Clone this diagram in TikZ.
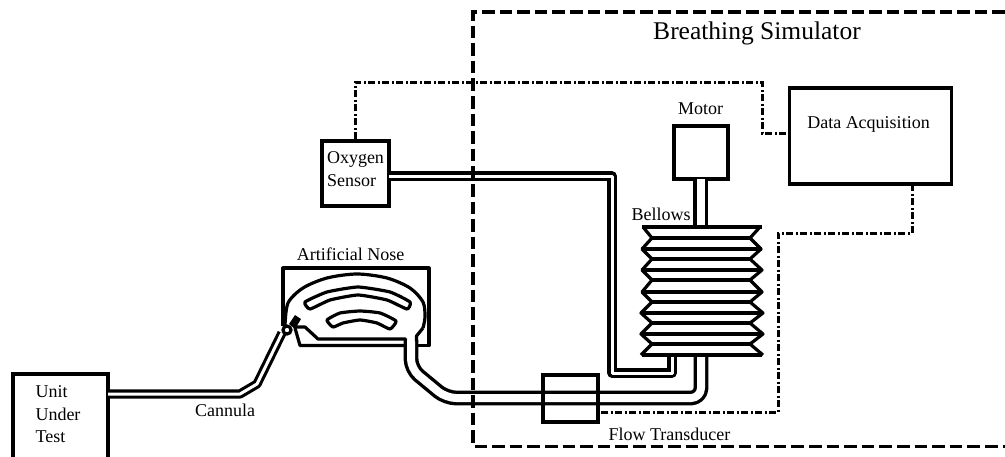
\documentclass[tikz,border=0pt]{standalone}
\usepackage{fontspec}
\setmainfont{Liberation Serif}
\begin{document}
\begin{tikzpicture}[x=1pt,y=-1pt,font=\fontsize{18}{22.5}\selectfont,
  box/.style={draw,line width=3.6pt,inner sep=0pt},
  txt/.style={inner sep=0pt,align=left},
  outline/.style={line width=3.2pt,line join=round},
  tube/.style={double,line width=3.1pt,double distance=3pt,line join=round},
  widetube/.style={double,line width=3.4pt,double distance=8pt,line join=round},
  signal/.style={line width=3pt,dash pattern=on 7pt off 2.5pt on 2pt off 2.5pt},
  border/.style={line width=3.2pt,dash pattern=on 12.6pt off 5pt},
  plate/.style={line width=3.4pt}]
  \useasboundingbox (0,0) rectangle (1005,456);

  \node[box,minimum width=95pt,minimum height=85pt] (uut) at (60.5,416.5) {};
  \node[box,minimum width=67pt,minimum height=65pt] (sensor) at (355.5,173.5) {};
  \node[box,minimum width=54pt,minimum height=53pt] (motor) at (701,152.5) {};
  \node[box,minimum width=162pt,minimum height=96pt] (daq) at (870.5,136) {};
  \coordinate (canin) at (108,394);
  \coordinate (canbend) at (240,394);
  \coordinate (cankink) at (257,384);
  \coordinate (ring) at (282,333);
  \coordinate (oxout) at (389,176);
  \coordinate (oxdown) at (612,176);
  \coordinate (oxbed) at (672,373);
  \coordinate (oxin) at (672,355);
  \coordinate (flowin) at (701,355);
  \coordinate (flowbend) at (701,398);
  \coordinate (noseout) at (411,340);
  \coordinate (shafttop) at (700.5,179);
  \coordinate (shaftend) at (700.5,227);

  % tubing
  \draw[tube] (canin) -- (canbend) -- (cankink) -- (ring);
  \draw[tube] (oxout) -- (oxdown) -- (oxdown |- oxbed) -- (oxbed) -- (oxin);
  \draw[widetube,rounded corners=10pt] (flowin) -- (flowbend) -- (446,398) -- (411,369) -- (noseout);
  \draw[widetube] (shafttop) -- (shaftend);

  % artificial nose
  \draw[outline] (283,326) -- (283,268) -- (429,268) -- (429,345.5) -- (416,345.5);
  \draw[outline] (405.5,345.5) -- (300,345.5) -- (295,328);
  \draw[outline] (405.5,340) -- (405.5,339) -- (318,339) -- (305,327) -- (294,327);
  \draw[outline,smooth] plot coordinates {(285,326) (288,303) (303,288) (327,278) (357,274)
    (387,278) (410,288) (423,302) (425,317) (423,328)};
  \draw[outline] (423,328) -- (416.5,336) -- (416.5,341);
  \draw[outline,smooth cycle,tension=0.3] plot coordinates {(305,302) (327,292) (358,287) (390,292)
    (410,302) (407,309) (387,300) (358,295) (330,300) (310,309)};
  \draw[outline,smooth cycle,tension=0.3] plot coordinates {(327,320) (340,313) (360,311) (380,313)
    (396,321) (390,329) (377,323) (360,320) (343,323) (333,327)};
  \fill (289,324) -- (295,315) -- (301,319) -- (295,329) -- cycle;
  \draw[line width=3.2pt,fill=white] (287,330) circle (4pt);

  % bellows
  \foreach \y in {227,249,270,292,313,334,355}
    \draw[plate] (642,\y) -- (762,\y);
  \foreach \y in {238,259,280,302,323,344}
    \draw[plate] (652,\y) -- (750,\y);
  \draw[outline] (643,227) -- (652,238) -- (642,249) -- (652,259) -- (642,270) -- (652,280) -- (642,292)
    -- (652,302) -- (641,313) -- (652,323) -- (641,334) -- (652,344) -- (641,355);
  \draw[outline] (760,227) -- (750,238) -- (761,249) -- (750,259) -- (762,270) -- (750,280) -- (762,292)
    -- (750,302) -- (763,313) -- (750,323) -- (763,334) -- (750,344) -- (763,355);

  \node[box,line width=3.2pt,minimum width=55pt,minimum height=47pt] (flow) at (570.5,398.5) {};

  % signal lines
  \coordinate (oxturn) at (762,82);
  \coordinate (daqin) at (789,133);
  \coordinate (daqout) at (912,184);
  \coordinate (flowturn) at (778,233);
  \coordinate (flowsig) at (598,412);
  \draw[signal] (sensor.north) |- (oxturn) |- (daqin);
  \draw[signal] (daqout) |- (flowturn) |- (flowsig);

  \draw[border] (1005,12) -- (473,12) -- (473,446.5) -- (1005,446.5);

  \node[txt,font=\fontsize{25.5}{30}\selectfont] (title) at (757,33) {Breathing Simulator};
  \node[txt] (motorlabel) at (700.5,109) {Motor};
  \node[txt] (bellowslabel) at (661,214) {Bellows};
  \node[txt] (daqlabel) at (868.5,124) {Data Acquisition};
  \node[txt] (sensorlabel) at (355.5,169) {Oxygen\\Sensor};
  \node[txt] (noselabel) at (350.5,254) {Artificial Nose};
  \node[txt] (cannulalabel) at (225,410) {Cannula};
  \node[txt] (uutlabel) at (58,414.5) {Unit\\Under\\Test};
  \node[txt] (flowlabel) at (669.5,434) {Flow Transducer};
\end{tikzpicture}
\end{document}
